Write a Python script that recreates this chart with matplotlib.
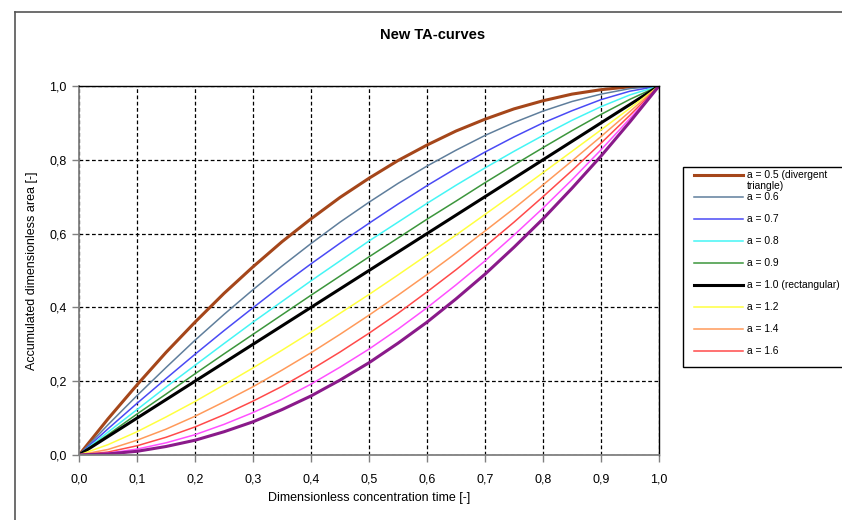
import matplotlib.pyplot as plt
from matplotlib.lines import Line2D
from matplotlib.patches import Rectangle
from matplotlib.ticker import FuncFormatter

plt.rcParams['font.family'] = ['Liberation Sans', 'DejaVu Sans']

# dimensionless concentration time
x = [0.0, 0.05, 0.1, 0.15, 0.2, 0.25, 0.3, 0.35, 0.4, 0.45, 0.5,
     0.55, 0.6, 0.65, 0.7, 0.75, 0.8, 0.85, 0.9, 0.95, 1.0]

# accumulated dimensionless area
a05 = [0.0, 0.098, 0.190, 0.278, 0.360, 0.438, 0.510, 0.578, 0.640, 0.698, 0.750,
       0.798, 0.840, 0.878, 0.910, 0.938, 0.960, 0.978, 0.990, 0.998, 1.0]
a06 = [0.0, 0.082, 0.161, 0.237, 0.311, 0.381, 0.448, 0.512, 0.573, 0.631, 0.685,
       0.736, 0.783, 0.826, 0.866, 0.901, 0.932, 0.958, 0.978, 0.993, 1.0]
a07 = [0.0, 0.071, 0.140, 0.207, 0.273, 0.337, 0.399, 0.460, 0.518, 0.574, 0.628,
       0.680, 0.730, 0.777, 0.821, 0.862, 0.900, 0.933, 0.963, 0.986, 1.0]
a08 = [0.0, 0.062, 0.123, 0.184, 0.243, 0.302, 0.360, 0.416, 0.472, 0.526, 0.580,
       0.631, 0.682, 0.731, 0.778, 0.823, 0.866, 0.907, 0.944, 0.976, 1.0]
a09 = [0.0, 0.055, 0.111, 0.165, 0.220, 0.274, 0.327, 0.380, 0.433, 0.485, 0.537,
       0.588, 0.639, 0.688, 0.738, 0.786, 0.833, 0.879, 0.923, 0.964, 1.0]
a10 = [0.0, 0.050, 0.100, 0.150, 0.200, 0.250, 0.300, 0.350, 0.400, 0.450, 0.500,
       0.550, 0.600, 0.650, 0.700, 0.750, 0.800, 0.850, 0.900, 0.950, 1.0]
a12 = [0.0, 0.028, 0.063, 0.103, 0.145, 0.190, 0.236, 0.284, 0.333, 0.384, 0.435,
       0.488, 0.542, 0.596, 0.652, 0.708, 0.765, 0.823, 0.881, 0.940, 1.0]
a14 = [0.0, 0.015, 0.040, 0.070, 0.105, 0.144, 0.185, 0.230, 0.277, 0.327, 0.379,
       0.433, 0.489, 0.547, 0.607, 0.668, 0.732, 0.797, 0.863, 0.931, 1.0]
a16 = [0.0, 0.008, 0.025, 0.048, 0.076, 0.109, 0.146, 0.186, 0.231, 0.279, 0.330,
       0.384, 0.442, 0.502, 0.565, 0.631, 0.700, 0.771, 0.845, 0.921, 1.0]
a18 = [0.0, 0.005, 0.016, 0.033, 0.055, 0.083, 0.115, 0.151, 0.192, 0.238, 0.287,
       0.341, 0.399, 0.461, 0.526, 0.596, 0.669, 0.746, 0.827, 0.912, 1.0]
a20 = [0.0, 0.003, 0.010, 0.023, 0.040, 0.063, 0.090, 0.123, 0.160, 0.203, 0.250,
       0.303, 0.360, 0.423, 0.490, 0.563, 0.640, 0.723, 0.810, 0.903, 1.0]

series = [a05, a06, a07, a08, a09, a10, a12, a14, a16, a18, a20]
labels = ["a = 0.5 (divergent\ntriangle)", "a = 0.6", "a = 0.7", "a = 0.8", "a = 0.9",
          "a = 1.0 (rectangular)", "a = 1.2", "a = 1.4", "a = 1.6", "a = 1.8",
          "a = 2.0 (convergent triangle)"]
colors = ["#A5461A", "#5F7E9C", "#4A4AF5", "#45F5F5", "#3C963C", "#000000",
          "#FFFF40", "#FF9A5A", "#FF4A4A", "#FF50FF", "#8A1A8A"]
widths = [2.2, 1.1, 1.1, 1.1, 1.1, 2.2, 1.1, 1.1, 1.1, 1.1, 2.2]

W, H = 842, 520
fig = plt.figure(figsize=(W / 100, H / 100), dpi=100)
ax = fig.add_axes([79 / W, 1 - 455 / H, 580 / W, 369 / H])

for ys, lab, c, w in zip(series, labels, colors, widths):
    ax.plot(x, ys, color=c, lw=w, label=lab, solid_joinstyle='round')

ax.set_xlim(0, 1)
ax.set_ylim(0, 1)
ax.set_xticks([i / 10 for i in range(11)])
ax.set_yticks([0, 0.2, 0.4, 0.6, 0.8, 1.0])
fmt = FuncFormatter(lambda v, p: f"{v:.1f}".replace('.', ','))
ax.xaxis.set_major_formatter(fmt)
ax.yaxis.set_major_formatter(fmt)
ax.tick_params(direction='out', length=5, width=1, color='#808080',
               labelsize=9, colors='#000000', pad=8)
ax.tick_params(axis='y', pad=4)
ax.grid(True, color='black', linestyle=(0, (3, 2)), linewidth=0.9)
for s in ['left', 'bottom']:
    ax.spines[s].set_color('#808080')
    ax.spines[s].set_linewidth(1.3)
for s in ['top', 'right']:
    ax.spines[s].set_color('black')
    ax.spines[s].set_linewidth(1.0)

ax.set_xlabel('Dimensionless concentration time [-]', fontsize=9, labelpad=5)
ax.set_ylabel('Accumulated dimensionless area [-]', fontsize=9)
ax.yaxis.set_label_coords(-0.07, 0.5)
fig.text(433 / W, 1 - 35 / H, 'New TA-curves', ha='center', va='center',
         fontsize=10.5, fontweight='bold')

# legend box as in the original: only the first nine entries fit, the rest is cut off
fig.add_artist(Rectangle((683 / W, 1 - 367 / H), 200 / W, 200 / H, transform=fig.transFigure,
                         facecolor='white', edgecolor='black', lw=1.0))
for i in range(9):
    yy = 1 - (175 + 22 * i) / H
    fig.add_artist(Line2D([694 / W, 743 / W], [yy, yy], transform=fig.transFigure,
                          color=colors[i], lw=widths[i]))
    if i == 0:
        fig.text(747 / W, yy, "a = 0.5 (divergent", fontsize=7.4, va='center', ha='left')
        fig.text(747 / W, yy - 11 / H, "triangle)", fontsize=7.4, va='center', ha='left')
    else:
        fig.text(747 / W, yy, labels[i], fontsize=7.4, va='center', ha='left')

# outer chart border (clipped by the image edge)
fig.add_artist(Line2D([15 / W, 15 / W], [0, 1 - 12 / H], transform=fig.transFigure,
                      color='#555555', lw=1.2))
fig.add_artist(Line2D([15 / W, 1], [1 - 12 / H, 1 - 12 / H], transform=fig.transFigure,
                      color='#555555', lw=1.2))

fig.savefig('out.png', dpi=100)
